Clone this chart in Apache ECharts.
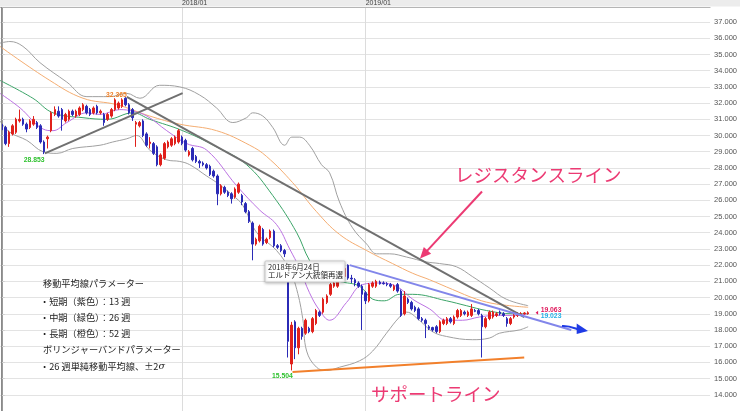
<!DOCTYPE html>
<html><head><meta charset="utf-8">
<script src="https://cdn.jsdelivr.net/npm/echarts@6/dist/echarts.min.js"></script>
<style>html,body{margin:0;padding:0;background:#fff}#c{width:740px;height:411px}</style>
</head><body><div id="c"></div>
<script>
// ---------- DATA ----------
const firstWeekUTC = Date.UTC(2017, 0, 15);
const weekCount = 150;
const slotCount = 201;
const categories = Array.from({length: slotCount}, (_, i) => {
  if (i >= weekCount) return '';
  const d = new Date(firstWeekUTC + i * 7 * 864e5);
  return d.getUTCFullYear() + '/' + String(d.getUTCMonth() + 1).padStart(2, '0') + '/' + String(d.getUTCDate()).padStart(2, '0');
});

// [open, close, low, high]
const candles = [
[30.7,30.35,30.2,30.85],[30.5,29.5,29.4,30.6],[29.5,30.2,29.3,30.3],[30.1,30.6,30.0,30.7],[30.2,31.0,30.1,31.1],[30.9,31.0,30.8,31.6],[31.0,30.7,30.6,31.1],[30.7,30.4,30.2,30.8],[30.5,30.9,30.4,31.0],[30.7,31.0,30.6,31.2],
[30.8,30.5,30.4,30.9],[30.6,29.6,29.5,30.7],[29.6,29.0,28.853,29.7],[29.8,29.9,29.2,30.0],[30.3,31.4,30.2,31.5],[31.3,31.6,31.2,31.8],[31.5,31.2,31.1,31.8],[31.6,31.0,30.3,31.7],[30.9,31.3,30.8,31.4],[31.0,31.5,30.9,31.6],
[31.5,31.3,31.2,31.6],[31.2,31.5,31.1,31.6],[31.3,31.7,31.2,31.8],[31.6,31.9,31.5,32.0],[31.8,31.4,31.3,31.9],[31.6,31.3,31.2,31.7],[31.4,31.7,31.3,31.8],[31.8,31.4,31.3,31.9],[31.4,31.5,31.3,31.6],[31.3,30.8,30.6,31.4],
[31.0,31.3,30.9,31.4],[31.2,31.6,31.1,31.7],[31.6,32.2,31.5,32.3],[31.7,32.0,31.6,32.1],[31.8,32.2,31.7,32.3],[32.3,31.9,31.8,32.365],[31.9,31.4,31.3,32.0],[31.6,31.1,30.9,31.7],[30.7,30.8,29.3,30.9],[30.6,30.8,30.5,30.9],
[30.9,30.0,29.9,31.0],[30.1,29.4,29.3,30.2],[29.5,29.6,29.2,29.9],[29.5,28.9,28.8,29.6],[29.3,28.2,28.1,29.4],[28.2,28.8,28.1,28.9],[28.6,29.5,28.5,29.6],[29.3,29.6,29.2,29.7],[29.4,29.8,29.3,29.9],[29.5,29.9,29.4,30.0],
[29.6,30.3,29.5,30.4],[29.9,29.5,29.4,30.0],[29.7,29.1,29.0,29.8],[28.8,29.0,28.7,29.1],[29.2,28.5,28.4,29.3],[28.7,28.4,28.3,28.8],[28.4,28.3,28.0,28.5],[28.3,28.2,28.1,28.4],[28.2,28.0,27.9,28.3],[28.1,27.6,27.5,28.2],
[27.8,27.5,27.4,27.9],[27.5,26.4,25.7,27.6],[26.4,26.9,26.3,27.0],[26.8,26.5,26.4,26.9],[26.5,26.3,26.2,26.6],[26.4,26.1,25.8,26.5],[26.2,26.7,26.1,26.8],[26.5,27.0,26.4,27.1],[26.3,25.9,25.7,26.4],[25.8,25.3,25.2,25.9],
[25.3,24.7,24.6,25.4],[24.6,23.3,22.3,24.7],[23.3,23.6,23.2,23.7],[23.5,24.4,23.4,24.5],[24.2,23.3,23.2,24.3],[23.4,23.6,23.3,23.7],[23.7,24.1,23.6,24.2],[24.1,23.2,23.1,24.2],[23.2,23.1,23.0,23.3],[23.2,22.9,22.8,23.3],
[22.9,22.7,22.5,23.0],[22.1,17.3,16.3,22.2],[15.9,18.3,15.504,18.5],[18.5,16.9,16.2,18.6],[16.9,18.1,16.5,18.2],[18.1,17.6,17.4,18.2],[17.8,18.6,17.7,18.7],[18.1,17.9,17.8,18.2],[17.9,18.7,17.8,18.8],[18.4,19.2,18.3,19.3],
[19.1,18.9,18.8,19.2],[19.1,19.9,19.0,20.0],[19.7,20.1,19.6,20.2],[20.2,20.8,20.1,20.9],[20.7,20.9,20.6,21.0],[20.7,21.3,20.6,21.4],[21.1,21.4,21.0,21.5],[21.3,21.8,21.2,21.9],[22.0,21.2,21.1,22.05],[21.2,21.15,20.9,21.4],
[21.1,20.9,20.7,21.2],[20.9,20.7,20.6,21.0],[20.7,20.2,18.0,20.8],[20.3,19.8,19.6,20.4],[19.8,20.8,19.7,20.9],[20.7,20.9,20.6,21.0],[20.7,21.0,20.6,21.1],[20.95,20.85,20.8,21.05],[20.9,20.85,20.8,21.0],[20.85,20.8,20.7,20.95],
[20.8,20.7,20.6,20.9],[20.5,20.7,20.4,20.8],[20.8,20.4,20.3,20.9],[20.4,18.9,18.8,20.5],[19.0,20.1,18.9,20.4],[19.9,19.7,19.6,20.0],[19.7,19.3,19.2,19.8],[19.4,19.2,19.1,19.5],[19.3,18.7,18.6,19.4],[18.7,18.6,18.5,18.8],
[18.6,18.4,17.5,18.7],[18.2,18.1,18.0,18.3],[18.15,18.0,17.9,18.2],[18.2,17.9,17.8,18.3],[17.9,18.5,17.8,18.6],[18.4,18.6,18.3,18.7],[18.4,18.7,18.3,18.8],[18.7,18.5,18.4,18.8],[18.4,18.8,18.3,18.9],[18.8,19.2,18.7,19.3],
[18.9,19.2,18.8,19.3],[19.1,19.0,18.9,19.2],[18.9,19.1,18.8,19.2],[18.9,19.3,18.8,19.6],[19.2,19.15,19.1,19.3],[19.2,19.0,18.9,19.3],[18.9,18.2,16.3,19.0],[18.2,18.7,18.1,18.8],[18.7,19.1,18.6,19.2],[18.8,19.1,18.7,19.2],
[18.9,19.0,18.8,19.1],[19.1,19.0,18.9,19.2],[19.0,18.9,18.8,19.1],[18.7,18.4,18.2,18.8],[18.4,18.7,18.3,18.8],[18.8,18.9,18.7,19.0],[18.9,19.0,18.8,19.1],[18.95,19.0,18.9,19.1],[19.0,19.05,18.95,19.1],[19.0,19.063,18.95,19.15]
];

// moving averages / bands: [week index, value]
const ma13 = [[-0.5,32.6],[5.2,31.7],[11.7,30.4],[14.5,30.3],[18.4,30.8],[24.1,31.4],[27.8,31.3],[33.4,31.6],[37.1,31.5],[41.1,31.2],[46.7,30.3],[52.4,29.5],[58,29.1],[66.5,26.9],[73,25.4],[77.8,24.5],[81.5,23.0],[84.3,21.8],[87.1,20.3],[90,19.2],[92.8,18.6],[97.6,19.7],[102.1,20.8],[106.9,20.9],[111.7,20.7],[116.3,19.9],[121.1,19.3],[125.9,18.6],[130.4,18.6],[135.2,18.8],[140,18.9],[144.5,18.9],[149,19.0]];
const ma26 = [[-0.5,33.4],[8.8,32.3],[14.5,31.4],[23,31.1],[29.8,31.0],[37.1,31.4],[41.9,31.0],[51.2,30.3],[60.8,29.3],[69.3,28.2],[76.7,26.3],[83.5,24.0],[87.1,22.3],[90.5,21.4],[95.6,21.0],[101.3,20.7],[105,19.9],[108.3,19.8],[112.6,20.2],[116.3,20.2],[125.9,19.8],[131.5,19.5],[137.2,19.2],[144.5,19.0],[149,19.0]];
const ma52 = [[-0.5,35.5],[13.6,33.4],[23,32.3],[32.6,31.9],[41.9,31.2],[50.4,30.7],[60.8,30.3],[70.2,29.4],[75,28.7],[82.3,27.1],[89.1,25.3],[95.6,23.9],[103.3,22.9],[110.6,22.1],[116.3,21.5],[121.1,21.1],[127.6,20.5],[134.4,19.9],[140,19.6],[149,19.4]];
const bbUpper = [[-0.5,35.7],[2.3,35.8],[6,35.5],[10.8,34.5],[18.4,33.3],[24.1,32.4],[30.6,32.4],[35.4,32.6],[39.1,32.3],[44.7,33.1],[50.4,33.0],[56,32.5],[60.8,31.7],[65.4,30.8],[69.3,31.1],[71,31.4],[73.9,31.2],[76.7,30.5],[80.1,29.4],[82.1,29.9],[84.3,29.9],[87.1,29.4],[90.5,28.2],[92.8,27.7],[95.6,25.9],[99.3,24.3],[103.3,23.3],[106.1,22.7],[109.8,22.7],[114.6,22.5],[120.2,22.2],[123.9,22.1],[128.7,21.9],[133.2,21.3],[138,20.6],[142.8,19.9],[149,19.5]];
const bbLower = [[-0.5,30.9],[2.3,30.2],[7.1,29.7],[11.7,29.0],[15.6,28.9],[20.1,29.2],[27.8,29.4],[31.4,29.6],[35.4,29.8],[38.2,30.0],[41.9,29.1],[46.7,28.5],[50.4,28.4],[53.2,28.2],[58,27.5],[60.8,27.1],[65.4,26.3],[68.2,25.7],[72.2,24.0],[77.8,22.9],[81.5,21.7],[83.5,20.5],[85.2,18.7],[86.3,16.7],[89.1,15.7],[91.9,15.5],[95.6,15.7],[101.3,16.1],[105,16.7],[108.9,17.8],[112.6,18.8],[114.6,19.1],[118.2,18.6],[121.9,17.9],[125.9,17.6],[133.2,17.4],[138,17.5],[140.9,17.8],[146.5,18.0],[149,18.2]];

// trend lines [week index, price]
const supportUp2017 = [[12.2,28.9],[51.2,32.62]];
const resistance1 = [[35.4,32.38],[147.9,18.8]];
const resistance2 = [[98.5,22.0],[161.2,18.0]];
const supportLine = [[82.3,15.4],[147.9,16.3]];

// labels
const highLabel = {idx: 35, price: 32.365};
const lowLabel1 = {idx: 12, price: 28.853};
const lowLabel2 = {idx: 82, price: 15.504};
const lastPrices = {idx: 149, price: 19.063, bid: 19.063, other: 19.023};
const legendLines = ['移動平均線パラメーター', '・短期（紫色）：13 週', '・中期（緑色）：26 週', '・長期（橙色）：52 週', 'ボリンジャーバンドパラメーター', '・26 週単純移動平均線、±2{i|σ}'];
const noteLines = ['2018年6月24日', 'エルドアン大統領再選'];

// ---------- CHART ----------
const isYearStart = (i, v) => !!v && v.slice(5, 7) === '01' && i > 0 && categories[i - 1].slice(5, 7) === '12';
const chart = echarts.init(document.getElementById('c'));
const ln = (data, color, width, z, smooth) => ({type: 'line', xAxisIndex: 1, data, symbol: 'none', smooth: smooth, lineStyle: {color, width}, z, silent: true});

chart.setOption({
  animation: false,
  backgroundColor: '#ffffff',
  grid: {left: 0, top: 7, width: 711, height: 414.6, show: false},
  xAxis: [{
    type: 'category', data: categories, position: 'top', boundaryGap: true,
    axisLine: {show: true, lineStyle: {color: '#b5b5b5', width: 1}},
    axisTick: {show: false},
    axisLabel: {interval: isYearStart, formatter: v => v.slice(0, 7), align: 'left', fontSize: 7, fontFamily: 'Liberation Sans', color: '#444', margin: 0.5},
    splitLine: {show: true, interval: isYearStart, alignWithLabel: true, lineStyle: {color: '#dcdcdc', width: 1}}
  }, {
    type: 'value', min: -0.5, max: slotCount - 0.5, show: false
  }],
  yAxis: {
    type: 'value', position: 'right', min: 13, max: 37.9, interval: 1,
    axisLine: {show: true, lineStyle: {color: '#9a9a9a', width: 1}},
    axisTick: {show: true, length: 3, lineStyle: {color: '#cfcfcf'}},
    axisLabel: {formatter: v => v.toFixed(3), fontSize: 7.5, fontFamily: 'Liberation Sans', color: '#555', margin: 4, showMaxLabel: false, showMinLabel: false},
    splitLine: {show: true, lineStyle: {color: '#e3e3e3', width: 1}}
  },
  series: [
    ln(bbUpper, '#a0a0a0', 1, 2, 0.4),
    ln(bbLower, '#a0a0a0', 1, 2, 0.4),
    ln(ma52, '#f4ad72', 1, 2, 0.4),
    ln(ma26, '#3ca468', 1, 2, 0.4),
    ln(ma13, '#bb72e2', 1, 2, 0.4),
    {type: 'candlestick', xAxisIndex: 0, data: candles, barWidth: 2, z: 3,
     itemStyle: {color: '#e0201b', color0: '#2b2bb6', borderColor: '#e0201b', borderColor0: '#2b2bb6', borderWidth: 1}},
    ln(supportUp2017, '#707070', 2, 4, false),
    ln(resistance1, '#707070', 2, 4, false),
    ln(resistance2, '#8286ea', 2, 4, false),
    ln(supportLine, '#f2802c', 2, 4, false)
  ]
});

const px = (x, y) => chart.convertToPixel({xAxisIndex: 1, yAxisIndex: 0}, [x, y]);
function arrow(x1, y1, x2, y2, color, w, hl, hw) {
  const dx = x2 - x1, dy = y2 - y1, L = Math.hypot(dx, dy), ux = dx / L, uy = dy / L;
  const bx = x2 - ux * hl, by = y2 - uy * hl;
  return [
    {type: 'line', shape: {x1, y1, x2: bx + ux, y2: by + uy}, style: {stroke: color, lineWidth: w}, z: 20},
    {type: 'polygon', shape: {points: [[x2, y2], [bx - uy * hw, by + ux * hw], [bx + uy * hw, by - ux * hw]]}, style: {fill: color}, z: 20}
  ];
}
const hi = px(highLabel.idx, highLabel.price);
const lo1 = px(lowLabel1.idx, lowLabel1.price);
const lo2 = px(lowLabel2.idx, lowLabel2.price);
const last = px(lastPrices.idx, lastPrices.price);
const numFont = {fontFamily: 'Liberation Sans', fontSize: 6.8, fontWeight: 'bold'};
const jp = 'Noto Sans CJK JP';
const pink = '#ec3a73';

const elements = [
  {type: 'rect', shape: {x: 0, y: 0, width: 740, height: 6.5}, style: {fill: '#ececec'}, z: -10, silent: true},
  {type: 'line', shape: {x1: 1.5, y1: 7, x2: 1.5, y2: 411}, style: {stroke: '#8a8a8a', lineWidth: 1}, z: 10},
  {type: 'text', x: hi[0] - 9, y: hi[1] - 2.5, style: Object.assign({text: highLabel.price.toFixed(3), fill: '#ee7f25', align: 'center', verticalAlign: 'middle'}, numFont), z: 20},
  {type: 'text', x: lo1[0] - 10, y: lo1[1] + 6, style: Object.assign({text: lowLabel1.price.toFixed(3), fill: '#2ec12e', align: 'center', verticalAlign: 'middle'}, numFont), z: 20},
  {type: 'text', x: lo2[0] - 9, y: lo2[1] + 6, style: Object.assign({text: lowLabel2.price.toFixed(3), fill: '#2ec12e', align: 'center', verticalAlign: 'middle'}, numFont), z: 20},
  {type: 'polygon', shape: {points: [[last[0] + 7.5, last[1]], [last[0] + 10, last[1] - 2], [last[0] + 10, last[1] + 2]]}, style: {fill: '#e0195c'}, z: 20},
  {type: 'text', x: last[0] + 12.5, y: last[1] - 2.8, style: Object.assign({text: lastPrices.bid.toFixed(3), fill: '#e0195c', align: 'left', verticalAlign: 'middle'}, numFont), z: 20},
  {type: 'text', x: last[0] + 12.5, y: last[1] + 3.8, style: Object.assign({text: lastPrices.other.toFixed(3), fill: '#25b1e6', align: 'left', verticalAlign: 'middle'}, numFont), z: 20},
  // legend block
  {type: 'text', x: 43, y: 284, style: {text: legendLines[0], fontFamily: jp, fontSize: 9.2, fill: '#222', verticalAlign: 'middle'}, z: 20},
  {type: 'text', x: 40, y: 301.5, style: {text: legendLines[1], fontFamily: jp, fontSize: 9.2, fill: '#222', verticalAlign: 'middle'}, z: 20},
  {type: 'text', x: 40, y: 318, style: {text: legendLines[2], fontFamily: jp, fontSize: 9.2, fill: '#222', verticalAlign: 'middle'}, z: 20},
  {type: 'text', x: 40, y: 334, style: {text: legendLines[3], fontFamily: jp, fontSize: 9.2, fill: '#222', verticalAlign: 'middle'}, z: 20},
  {type: 'text', x: 43, y: 350, style: {text: legendLines[4], fontFamily: jp, fontSize: 9.2, fill: '#222', verticalAlign: 'middle'}, z: 20},
  {type: 'text', x: 40, y: 366.5, style: {text: legendLines[5], fontFamily: jp, fontSize: 9.2, fill: '#222', verticalAlign: 'middle', rich: {i: {fontStyle: 'italic', fontFamily: 'DejaVu Serif', fontSize: 9.5, fill: '#222'}}}, z: 20},
  // note box
  {type: 'rect', shape: {x: 265, y: 261, width: 80, height: 21, r: 1}, style: {fill: '#ffffff', stroke: '#c9c9c9', lineWidth: 1, shadowBlur: 3, shadowColor: 'rgba(0,0,0,0.25)', shadowOffsetY: 1}, z: 30},
  {type: 'text', x: 268, y: 267, style: {text: noteLines[0], fontFamily: jp, fontSize: 7.5, fill: '#222', verticalAlign: 'middle'}, z: 31},
  {type: 'text', x: 268, y: 275.5, style: {text: noteLines[1], fontFamily: jp, fontSize: 7.5, fill: '#222', verticalAlign: 'middle'}, z: 31},
  // big labels
  {type: 'text', x: 455, y: 174.5, style: {text: 'レジスタンスライン', fontFamily: jp, fontSize: 18.5, fill: pink, verticalAlign: 'middle'}, z: 20},
  {type: 'text', x: 371, y: 393.5, style: {text: 'サポートライン', fontFamily: jp, fontSize: 18.5, fill: pink, verticalAlign: 'middle'}, z: 20},
  ...arrow(482, 191.5, 420, 258.5, pink, 2, 11, 5),
  {type: 'bezierCurve', shape: {x1: 562, y1: 326, cpx1: 569, cpy1: 325.5, cpx2: 574, cpy2: 328, x2: 578, y2: 329.3}, style: {stroke: '#1f3be6', lineWidth: 2, fill: null}, z: 20},
  {type: 'polygon', shape: {points: [[588, 331], [576.7, 323.5], [576.7, 334]]}, style: {fill: '#1f3be6'}, z: 20}
];
chart.setOption({graphic: {elements}});
</script></body></html>
